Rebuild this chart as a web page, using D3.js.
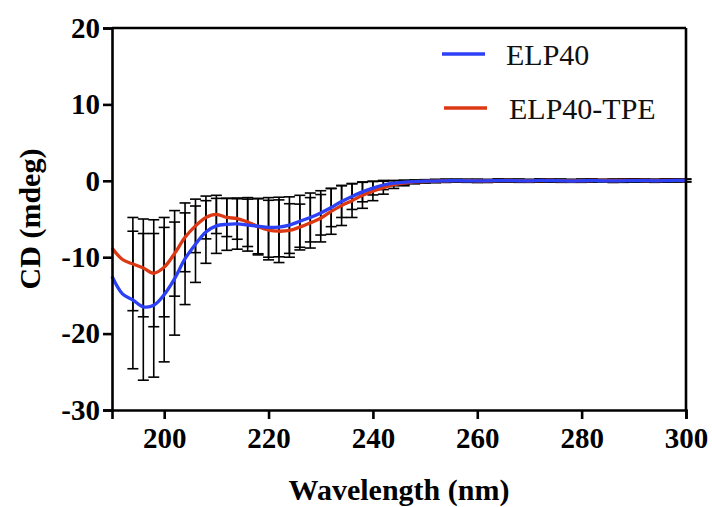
<!DOCTYPE html>
<html lang="en">
	<head>
		<meta charset="utf-8">
		<title>CD spectra</title>
		<script type="text/javascript" src="https://d3js.org/d3.v7.min.js"></script>
		<style type="text/css">
			body { margin: 0; background: #fff; }
		</style>
	</head>
	<body>
		<script type="text/javascript">

			// wavelengths (nm)
			var wavelengths = [190, 192, 194, 196, 198, 200, 202, 204, 206, 208,
				210, 212, 214, 216, 218, 220, 222, 224, 226, 228,
				230, 232, 234, 236, 238, 240, 242, 244, 246, 248,
				250, 252, 254, 256, 258, 260, 262, 264, 266, 268,
				270, 272, 274, 276, 278, 280, 282, 284, 286, 288,
				290, 292, 294, 296, 298, 300];

			var elp40 = [-12.5, -14.8, -15.6, -16.5, -16.3, -14.9, -12.8, -10.2, -8.3, -6.7,
				-5.9, -5.7, -5.65, -5.8, -5.95, -6.1, -6.05, -5.8, -5.3, -4.8,
				-4.2, -3.5, -2.7, -2.05, -1.45, -0.95, -0.55, -0.3, -0.18, -0.1,
				-0.05, -0.03, 0, 0.02, 0, -0.02, 0, 0.03, 0.02, 0,
				-0.02, 0.05, 0.02, 0, -0.03, 0, 0.02, 0, -0.02, 0,
				0.03, 0.02, 0, 0.02, 0.05, 0.04];

			var elp40Err = [0, 0, 9.0, 9.6, 9.4, 8.8, 7.4, 6.0, 5.0, 4.1,
				3.6, 3.4, 3.3, 3.4, 3.6, 3.9, 3.9, 3.7, 3.4, 3.2,
				2.9, 2.5, 2.1, 1.7, 1.3, 0.9, 0.6, 0.35, 0.25, 0.2,
				0.2, 0.2, 0.2, 0.15, 0.2, 0.2, 0.15, 0.2, 0.2, 0.2,
				0.15, 0.2, 0.2, 0.2, 0.15, 0.2, 0.2, 0.15, 0.2, 0.2,
				0.2, 0.15, 0.2, 0.2, 0.2, 0.15];

			var elp40tpe = [-8.8, -10.3, -10.9, -11.4, -12.1, -11.3, -9.5, -7.4, -5.9, -4.8,
				-4.4, -4.8, -4.95, -5.4, -6.0, -6.45, -6.6, -6.5, -6.05, -5.5,
				-4.9, -4.0, -3.25, -2.6, -1.9, -1.35, -0.9, -0.5, -0.3, -0.15,
				-0.08, -0.03, 0, 0.02, 0.03, 0, -0.02, 0.02, 0.04, 0.02,
				0, 0.03, 0.05, 0.02, 0, 0.02, 0.04, 0.05, 0.03, 0.05,
				0.06, 0.04, 0.03, 0.05, 0.06, 0.04];

			var elp40tpeErr = [0, 0, 6.1, 6.4, 7.0, 6.5, 5.6, 4.5, 3.5, 2.8,
				2.5, 2.5, 2.7, 3.2, 3.7, 3.9, 4.1, 3.5, 3.0, 3.3,
				3.1, 3.0, 2.6, 2.2, 1.7, 1.25, 0.85, 0.5, 0.35, 0.25,
				0.2, 0.2, 0.2, 0.2, 0.15, 0.2, 0.2, 0.2, 0.15, 0.2,
				0.2, 0.2, 0.15, 0.2, 0.2, 0.2, 0.2, 0.15, 0.2, 0.2,
				0.2, 0.2, 0.15, 0.2, 0.2, 0.2];

			var xTicks = [200, 220, 240, 260, 280, 300];
			var yTicks = [-30, -20, -10, 0, 10, 20];

			var seriesNames = ["ELP40", "ELP40-TPE"];
			var seriesColors = ["#2c40f5", "#dc3814"];

			//Width and height
			var w = 712;
			var h = 507;
			var margin = {top: 28, right: 26, bottom: 97, left: 112};
			var pw = w - margin.left - margin.right;
			var ph = h - margin.top - margin.bottom;

			var svg = d3.select("body")
				.append("svg")
				.attr("width", w)
				.attr("height", h);

			var g = svg.append("g")
				.attr("transform", "translate(" + margin.left + "," + margin.top + ")");

			var xScale = d3.scaleLinear().domain([190, 300]).range([0, pw]);
			var yScale = d3.scaleLinear().domain([-30, 20]).range([ph, 0]);

			var series = [
				{ name: seriesNames[0], color: seriesColors[0], values: elp40, errs: elp40Err },
				{ name: seriesNames[1], color: seriesColors[1], values: elp40tpe, errs: elp40tpeErr }
			];

			// error bars first so the curves sit on top
			var capW = 5.5;
			series.forEach(function(s) {
				var pts = wavelengths.map(function(x, i) {
					return { x: x, y: s.values[i], e: s.errs[i] };
				}).filter(function(d) { return d.e > 0; });

				var eb = g.append("g").attr("stroke", "#000").attr("stroke-width", 1.6).attr("fill", "none");
				eb.selectAll("line.v").data(pts).enter().append("line")
					.attr("x1", function(d) { return xScale(d.x); })
					.attr("x2", function(d) { return xScale(d.x); })
					.attr("y1", function(d) { return yScale(d.y + d.e); })
					.attr("y2", function(d) { return yScale(d.y - d.e); });
				eb.selectAll("line.t").data(pts).enter().append("line")
					.attr("x1", function(d) { return xScale(d.x) - capW; })
					.attr("x2", function(d) { return xScale(d.x) + capW; })
					.attr("y1", function(d) { return yScale(d.y + d.e); })
					.attr("y2", function(d) { return yScale(d.y + d.e); });
				eb.selectAll("line.b").data(pts).enter().append("line")
					.attr("x1", function(d) { return xScale(d.x) - capW; })
					.attr("x2", function(d) { return xScale(d.x) + capW; })
					.attr("y1", function(d) { return yScale(d.y - d.e); })
					.attr("y2", function(d) { return yScale(d.y - d.e); });
			});

			var line = d3.line()
				.x(function(d) { return xScale(d[0]); })
				.y(function(d) { return yScale(d[1]); })
				.curve(d3.curveCatmullRom.alpha(0.5));

			// red underneath, blue on top
			[series[1], series[0]].forEach(function(s) {
				g.append("path")
					.datum(wavelengths.map(function(x, i) { return [x, s.values[i]]; }))
					.attr("d", line)
					.attr("fill", "none")
					.attr("stroke", s.color)
					.attr("stroke-width", 3.3)
					.attr("stroke-linejoin", "round");
			});

			// axes
			var xAxis = g.append("g")
				.attr("transform", "translate(0," + ph + ")")
				.call(d3.axisBottom(xScale).tickValues(xTicks).tickSize(9).tickPadding(8)
					.tickFormat(function(d) { return String(d); }));

			var yAxis = g.append("g")
				.call(d3.axisLeft(yScale).tickValues(yTicks).tickSize(9).tickPadding(3)
					.tickFormat(function(d) { return String(d); }));

			[xAxis, yAxis].forEach(function(a) {
				a.select(".domain").attr("stroke-width", 2.6);
				a.selectAll(".tick line").attr("stroke-width", 2.6);
				a.selectAll("text")
					.attr("font-family", "'Liberation Serif', 'Times New Roman', serif")
					.attr("font-weight", "bold")
					.attr("font-size", "29px")
					.attr("fill", "#000");
			});

			// right and top frame
			g.append("line").attr("x1", 0).attr("x2", pw).attr("y1", 0).attr("y2", 0)
				.attr("stroke", "#000").attr("stroke-width", 2.6);
			g.append("line").attr("x1", pw).attr("x2", pw).attr("y1", 0).attr("y2", ph)
				.attr("stroke", "#000").attr("stroke-width", 2.6);

			// axis titles
			svg.append("text")
				.attr("x", margin.left + pw / 2)
				.attr("y", 500)
				.attr("text-anchor", "middle")
				.attr("font-family", "'Liberation Serif', 'Times New Roman', serif")
				.attr("font-weight", "bold")
				.attr("font-size", "30px")
				.text("Wavelength (nm)");

			svg.append("text")
				.attr("transform", "translate(40," + (margin.top + ph / 2) + ") rotate(-90)")
				.attr("text-anchor", "middle")
				.attr("font-family", "'Liberation Serif', 'Times New Roman', serif")
				.attr("font-weight", "bold")
				.attr("font-size", "30px")
				.text("CD (mdeg)");

			// legend
			var legendPos = [{ lx: 442, ly: 54, tx: 506, ty: 65 }, { lx: 444, ly: 108, tx: 509, ty: 119 }];
			series.forEach(function(s, i) {
				var p = legendPos[i];
				svg.append("line")
					.attr("x1", p.lx).attr("x2", p.lx + 43)
					.attr("y1", p.ly).attr("y2", p.ly)
					.attr("stroke", s.color).attr("stroke-width", 3.3);
				svg.append("text")
					.attr("x", p.tx).attr("y", p.ty)
					.attr("font-family", "'Liberation Serif', 'Times New Roman', serif")
					.attr("font-size", "30px")
					.attr("fill", "#111")
					.text(s.name);
			});

		</script>
	</body>
</html>
